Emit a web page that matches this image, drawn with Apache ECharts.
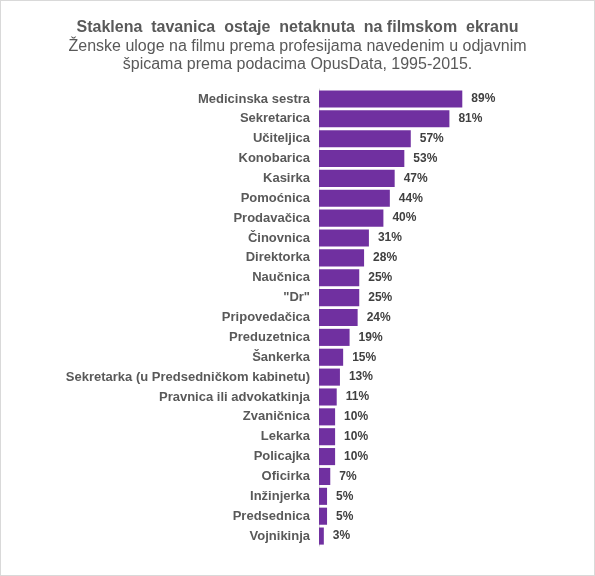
<!DOCTYPE html>
<html>
<head>
<meta charset="utf-8">
<script src="https://cdn.jsdelivr.net/npm/echarts@6/dist/echarts.min.js"></script>
<style>
  html, body { margin: 0; padding: 0; background: #fff; }
  #chart { width: 593px; height: 574px; border: 1px solid #d9d9d9; }
</style>
</head>
<body>
<div id="chart"></div>
<script>
// zanimanja (odozgo nadole) i procenti
var professions = [
    'Medicinska sestra', 'Sekretarica', 'Učiteljica', 'Konobarica', 'Kasirka',
    'Pomoćnica', 'Prodavačica', 'Činovnica', 'Direktorka', 'Naučnica', '"Dr"',
    'Pripovedačica', 'Preduzetnica', 'Šankerka', 'Sekretarka (u Predsedničkom kabinetu)',
    'Pravnica ili advokatkinja', 'Zvaničnica', 'Lekarka', 'Policajka', 'Oficirka',
    'Inžinjerka', 'Predsednica', 'Vojnikinja'
];
var shares = [89, 81, 57, 53, 47, 44, 40, 31, 28, 25, 25, 24, 19, 15, 13, 11, 10, 10, 10, 7, 5, 5, 3];

var titleText = 'Staklena  tavanica  ostaje  netaknuta  na filmskom  ekranu';
var subText = 'Ženske uloge na filmu prema profesijama navedenim u odjavnim\nšpicama prema podacima OpusData, 1995-2015.';

var myChart = echarts.init(document.getElementById('chart'));

var options = {
    animation: false,
    title: {
        left: 'center',
        top: 14,
        text: titleText,
        subtext: subText,
        itemGap: 2,
        textStyle: {
            fontFamily: 'Liberation Sans',
            fontSize: 16,
            fontWeight: 'bold',
            color: '#595959'
        },
        subtextStyle: {
            fontFamily: 'Liberation Sans',
            fontSize: 16,
            color: '#595959',
            lineHeight: 18
        }
    },
    grid: {
        left: 318,
        top: 88,
        width: 161,
        height: 457
    },
    xAxis: {
        type: 'value',
        min: 0,
        max: 100,
        show: false
    },
    yAxis: {
        type: 'category',
        inverse: true,
        data: professions,
        axisLine: { show: true, lineStyle: { color: '#d9d9d9', width: 1 } },
        axisTick: { show: false },
        axisLabel: {
            margin: 9,
            fontFamily: 'Liberation Sans',
            fontSize: 13,
            fontWeight: 'bold',
            color: '#595959'
        }
    },
    series: [
        {
            name: 'Udeo',
            type: 'bar',
            data: shares,
            barCategoryGap: '14%',
            itemStyle: { color: '#7030a0' },
            label: {
                show: true,
                position: 'right',
                distance: 9,
                formatter: '{c}%',
                fontFamily: 'Liberation Sans',
                fontSize: 12,
                fontWeight: 'bold',
                color: '#404040'
            }
        }
    ]
};
myChart.setOption(options);
</script>
</body>
</html>
